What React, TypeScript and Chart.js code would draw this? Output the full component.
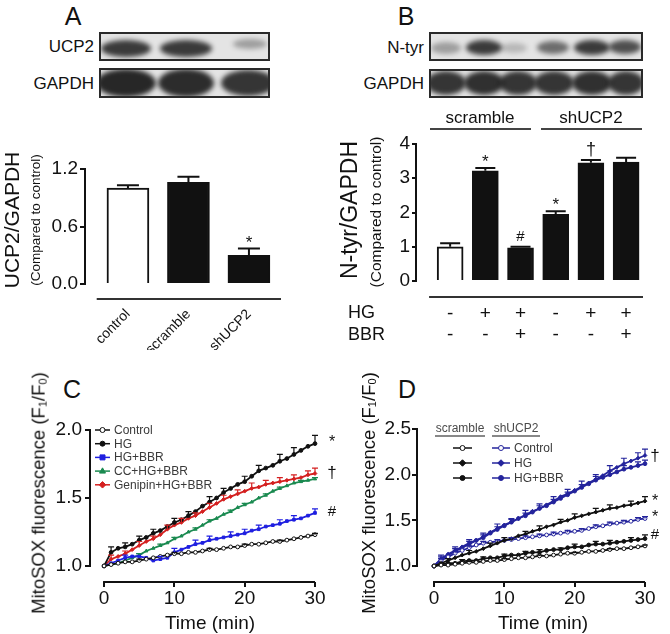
import React, { useEffect, useRef } from 'react';
import { Chart, registerables } from 'chart.js';
Chart.register(...registerables);

const FONT = '"Liberation Sans", Arial, Helvetica, sans-serif';
const INK = '#111111';

// ---------- Panel A data ----------
const aCategories = ['control', 'scramble', 'shUCP2'];
const aValues = [1.0, 1.06, 0.3];
const aErrors = [0.03, 0.06, 0.07];
const aMarks = ['', '', '*'];
const aTicks = [0, 0.6, 1.2];

// ---------- Panel B data ----------
const bHG = ['-', '+', '+', '-', '+', '+'];
const bBBR = ['-', '-', '+', '-', '-', '+'];
const bValues = [1.0, 3.22, 0.97, 1.95, 3.45, 3.47];
const bErrors = [0.1, 0.08, 0.03, 0.09, 0.08, 0.13];
const bMarks = ['', '*', '#', '*', '†', ''];
const bTicks = [0, 1, 2, 3, 4];

// ---------- Panels C / D shared ----------
const timeMin = [0, 1, 2, 3, 4, 5, 6, 7, 8, 9, 10, 11, 12, 13, 14, 15, 16, 17, 18, 19, 20, 21, 22, 23, 24, 25, 26, 27, 28, 29, 30];
const xTicks = [0, 10, 20, 30];

// ---------- Panel C data ----------
const cTicks = [1.0, 1.5, 2.0];
const cControl = [1.0, 1.01, 1.02, 1.03, 1.03, 1.04, 1.05, 1.06, 1.07, 1.08, 1.09, 1.09, 1.1, 1.1, 1.11, 1.12, 1.12, 1.13, 1.14, 1.14, 1.15, 1.16, 1.16, 1.17, 1.18, 1.18, 1.19, 1.2, 1.21, 1.22, 1.23];
const cControlErr = [0, 0, 0, 0, 0, 0.01, 0, 0, 0, 0, 0.01, 0, 0, 0, 0, 0.01, 0, 0, 0, 0, 0.01, 0, 0, 0, 0, 0.01, 0, 0, 0, 0, 0.01];
const cHG = [1.0, 1.1, 1.13, 1.14, 1.16, 1.19, 1.21, 1.24, 1.26, 1.29, 1.32, 1.34, 1.37, 1.4, 1.44, 1.47, 1.5, 1.54, 1.57, 1.6, 1.62, 1.66, 1.7, 1.72, 1.74, 1.77, 1.79, 1.82, 1.85, 1.88, 1.9];
const cHGErr = [0, 0.04, 0, 0.03, 0, 0.03, 0, 0.03, 0, 0, 0.03, 0, 0.03, 0, 0, 0.04, 0, 0.03, 0, 0, 0.04, 0, 0.04, 0, 0, 0.05, 0, 0.05, 0, 0, 0.06];
const cHGBBR = [1.0, 1.02, 1.04, 1.06, 1.07, 1.07, 1.06, 1.04, 1.05, 1.06, 1.1, 1.12, 1.14, 1.16, 1.17, 1.19, 1.2, 1.21, 1.22, 1.23, 1.24, 1.26, 1.27, 1.29, 1.3, 1.31, 1.33, 1.34, 1.35, 1.37, 1.39];
const cHGBBRErr = [0, 0, 0, 0.02, 0, 0.02, 0, 0, 0.02, 0, 0.03, 0, 0, 0.03, 0, 0.03, 0, 0, 0.03, 0, 0.03, 0, 0.03, 0, 0, 0.03, 0, 0.03, 0, 0, 0.03];
const cCC = [1.0, 1.01, 1.02, 1.04, 1.06, 1.08, 1.11, 1.13, 1.15, 1.17, 1.2, 1.22, 1.25, 1.27, 1.3, 1.33, 1.35, 1.38, 1.4, 1.43, 1.45, 1.47, 1.5, 1.52, 1.55, 1.57, 1.59, 1.61, 1.62, 1.63, 1.64];
const cCCErr = [0, 0, 0, 0, 0, 0.01, 0, 0, 0.01, 0, 0.01, 0, 0, 0.01, 0, 0.01, 0, 0, 0.01, 0, 0.01, 0, 0, 0.01, 0, 0.01, 0, 0, 0.01, 0, 0.01];
const cGenipin = [1.0, 1.05, 1.07, 1.09, 1.12, 1.15, 1.18, 1.2, 1.23, 1.27, 1.3, 1.32, 1.35, 1.37, 1.4, 1.43, 1.46, 1.49, 1.51, 1.53, 1.55, 1.57, 1.58, 1.6, 1.61, 1.62, 1.63, 1.64, 1.65, 1.67, 1.68];
const cGenipinErr = [0, 0.03, 0, 0.02, 0, 0.03, 0, 0.02, 0, 0.03, 0, 0.03, 0, 0.02, 0, 0.03, 0, 0.03, 0, 0.03, 0, 0.04, 0, 0.03, 0, 0.03, 0, 0.03, 0, 0.03, 0.04];
const cLabels = ['Control', 'HG', 'HG+BBR', 'CC+HG+BBR', 'Genipin+HG+BBR'];

// ---------- Panel D data ----------
const dTicks = [1.0, 1.5, 2.0, 2.5];
const dScrControl = [1.0, 1.01, 1.01, 1.02, 1.03, 1.04, 1.04, 1.05, 1.06, 1.06, 1.07, 1.08, 1.09, 1.09, 1.1, 1.11, 1.11, 1.12, 1.13, 1.14, 1.14, 1.15, 1.16, 1.16, 1.17, 1.18, 1.19, 1.19, 1.2, 1.21, 1.22];
const dScrControlErr = [0, 0, 0, 0, 0, 0.01, 0, 0, 0, 0, 0.01, 0, 0, 0, 0, 0.01, 0, 0, 0, 0, 0.01, 0, 0, 0, 0, 0.01, 0, 0, 0, 0, 0.01];
const dScrHG = [1.0, 1.03, 1.06, 1.09, 1.12, 1.14, 1.16, 1.19, 1.22, 1.25, 1.28, 1.3, 1.33, 1.35, 1.38, 1.4, 1.43, 1.45, 1.48, 1.5, 1.53, 1.55, 1.57, 1.59, 1.61, 1.63, 1.64, 1.66, 1.67, 1.69, 1.71];
const dScrHGErr = [0, 0, 0.02, 0, 0, 0.03, 0, 0, 0.03, 0, 0.03, 0, 0, 0.03, 0, 0.04, 0, 0, 0.03, 0, 0.04, 0, 0, 0.04, 0, 0.04, 0, 0, 0.04, 0, 0.05];
const dScrHGBBR = [1.0, 1.02, 1.03, 1.03, 1.05, 1.06, 1.06, 1.08, 1.09, 1.09, 1.11, 1.12, 1.12, 1.14, 1.15, 1.15, 1.17, 1.18, 1.18, 1.2, 1.21, 1.21, 1.23, 1.24, 1.24, 1.25, 1.26, 1.27, 1.28, 1.29, 1.3];
const dScrHGBBRErr = [0, 0, 0, 0, 0.02, 0, 0, 0.02, 0, 0, 0.02, 0, 0, 0.02, 0, 0.03, 0, 0, 0.02, 0, 0.03, 0, 0, 0.03, 0, 0.03, 0, 0, 0.03, 0, 0.04];
const dShControl = [1.0, 1.06, 1.1, 1.14, 1.17, 1.2, 1.23, 1.25, 1.26, 1.27, 1.28, 1.29, 1.3, 1.31, 1.32, 1.33, 1.34, 1.35, 1.36, 1.37, 1.38, 1.39, 1.41, 1.43, 1.44, 1.46, 1.47, 1.48, 1.49, 1.51, 1.52];
const dShControlErr = [0, 0.02, 0, 0.02, 0, 0.02, 0, 0.02, 0, 0.02, 0, 0.02, 0, 0.02, 0, 0.02, 0, 0.02, 0, 0.02, 0, 0.02, 0, 0.02, 0, 0.02, 0, 0.02, 0, 0.02, 0.02];
const dShHG = [1.0, 1.08, 1.13, 1.17, 1.21, 1.25, 1.28, 1.32, 1.37, 1.41, 1.45, 1.48, 1.52, 1.56, 1.6, 1.63, 1.67, 1.71, 1.76, 1.79, 1.83, 1.87, 1.91, 1.95, 1.99, 2.04, 2.08, 2.12, 2.15, 2.18, 2.21];
const dShHGErr = [0, 0.04, 0, 0.04, 0, 0.04, 0, 0.04, 0, 0.05, 0, 0.04, 0, 0.05, 0, 0.05, 0, 0.05, 0, 0.05, 0, 0.06, 0, 0.05, 0, 0.06, 0, 0.06, 0, 0.06, 0.07];
const dShHGBBR = [1.0, 1.07, 1.12, 1.16, 1.2, 1.24, 1.28, 1.31, 1.36, 1.4, 1.44, 1.48, 1.52, 1.55, 1.59, 1.63, 1.66, 1.7, 1.74, 1.78, 1.82, 1.86, 1.9, 1.94, 1.97, 2.0, 2.03, 2.06, 2.08, 2.1, 2.12];
const dShHGBBRErr = [0, 0.03, 0, 0.03, 0, 0.03, 0, 0.03, 0, 0.03, 0, 0.03, 0, 0.03, 0, 0.03, 0, 0.03, 0, 0.03, 0, 0.03, 0, 0.04, 0, 0.04, 0, 0.04, 0, 0.04, 0.04];
const dLabels = ['Control', 'HG', 'HG+BBR'];

// ---------- helpers ----------
function drawMarker(ctx: CanvasRenderingContext2D, style: string, x: number, y: number, r: number, fill: string, stroke: string) {
  ctx.beginPath();
  if (style === 'rect') ctx.rect(x - r, y - r, 2 * r, 2 * r);
  else if (style === 'triangle') {
    ctx.moveTo(x, y - r * 1.3);
    ctx.lineTo(x + r * 1.2, y + r * 0.8);
    ctx.lineTo(x - r * 1.2, y + r * 0.8);
    ctx.closePath();
  } else if (style === 'rectRot') {
    ctx.moveTo(x, y - r * 1.3);
    ctx.lineTo(x + r * 1.3, y);
    ctx.lineTo(x, y + r * 1.3);
    ctx.lineTo(x - r * 1.3, y);
    ctx.closePath();
  } else ctx.arc(x, y, r, 0, Math.PI * 2);
  ctx.fillStyle = fill;
  ctx.fill();
  ctx.strokeStyle = stroke;
  ctx.lineWidth = 1;
  ctx.stroke();
}

const MARK_STYLE: Record<string, { size: number; gap: number }> = {
  '*': { size: 17, gap: 1 },
  '#': { size: 15, gap: 6 },
  '†': { size: 18, gap: 5 },
};

const prismPlugin = {
  id: 'prism',
  afterDatasetsDraw(chart: any) {
    const o = chart.options.plugins.prism || {};
    const ctx: CanvasRenderingContext2D = chart.ctx;
    const xs = chart.scales.x;
    const ys = chart.scales.y;
    const ca = chart.chartArea;
    ctx.save();
    chart.data.datasets.forEach((ds: any, di: number) => {
      const meta = chart.getDatasetMeta(di);
      if (ds.errors) {
        meta.data.forEach((el: any, i: number) => {
          const e = ds.errors[i];
          if (!e) return;
          const v = ds.data[i].y;
          const y0 = ys.getPixelForValue(v);
          const y1 = ys.getPixelForValue(v + e);
          const x = el.x;
          const w = (ds.capWidth || 6) / 2;
          ctx.strokeStyle = ds.errorColor || ds.borderColor;
          ctx.lineWidth = ds.errorWidth || 1.2;
          ctx.beginPath();
          ctx.moveTo(x, y0);
          ctx.lineTo(x, y1);
          ctx.moveTo(x - w, y1);
          ctx.lineTo(x + w, y1);
          ctx.stroke();
        });
      }
      if (ds.marks) {
        ctx.fillStyle = INK;
        ctx.textAlign = 'center';
        ctx.textBaseline = 'alphabetic';
        meta.data.forEach((el: any, i: number) => {
          const m = ds.marks[i];
          if (!m) return;
          const st = MARK_STYLE[m] || { size: 15, gap: 4 };
          ctx.font = `${st.size}px ${FONT}`;
          const v = ds.data[i].y + (ds.errors ? ds.errors[i] : 0);
          ctx.fillText(m, el.x, ys.getPixelForValue(v) - st.gap);
        });
      }
    });
    ctx.strokeStyle = INK;
    ctx.lineWidth = 2;
    if (o.yLine) {
      ctx.beginPath();
      ctx.moveTo(ca.left, ys.getPixelForValue(o.yLine[0]) + 1);
      ctx.lineTo(ca.left, ys.getPixelForValue(o.yLine[1]) - 1);
      ctx.stroke();
    }
    if (o.xLine) {
      const y = ca.bottom + (o.xLine[2] || 0);
      ctx.strokeStyle = o.xLineColor || INK;
      ctx.beginPath();
      ctx.moveTo(xs.getPixelForValue(o.xLine[0]) - 1, y);
      ctx.lineTo(xs.getPixelForValue(o.xLine[1]), y);
      ctx.stroke();
    }
    if (o.legend) {
      o.legend.forEach((it: any) => {
        const ds = chart.data.datasets[it.ds];
        ctx.strokeStyle = ds.borderColor;
        ctx.lineWidth = 1.5;
        ctx.beginPath();
        ctx.moveTo(it.x, it.y);
        ctx.lineTo(it.x + it.len, it.y);
        ctx.stroke();
        drawMarker(ctx, ds.pointStyle, it.x + it.len / 2, it.y, 2.5, ds.pointBackgroundColor, ds.borderColor);
        if (it.text) {
          ctx.fillStyle = '#3a3a3a';
          ctx.font = `12px ${FONT}`;
          ctx.textAlign = 'left';
          ctx.textBaseline = 'middle';
          ctx.fillText(it.text, it.x + it.len + 4, it.y + 0.5);
        }
      });
    }
    ctx.restore();
  },
};

const tickGrid = { display: true, drawOnChartArea: false, drawTicks: true, tickLength: 5, lineWidth: 2, color: INK };

function barConfig(p: any) {
  return {
    type: 'bar',
    data: {
      datasets: [
        {
          data: p.values.map((v: number, i: number) => ({ x: i, y: v })),
          backgroundColor: p.values.map((_: number, i: number) => (i === 0 ? '#ffffff' : INK)),
          borderColor: INK,
          borderWidth: 2,
          barThickness: p.barThickness,
          errors: p.errors,
          marks: p.marks,
          capWidth: p.capWidth,
          errorColor: INK,
          errorWidth: 2,
        },
      ],
    },
    options: {
      animation: false,
      responsive: false,
      devicePixelRatio: 1,
      layout: { padding: { left: 0, top: p.top, right: p.right, bottom: 0 } },
      plugins: {
        legend: { display: false },
        tooltip: { enabled: false },
        prism: { yLine: [p.yTicks[0], p.yTicks[p.yTicks.length - 1]], xLine: p.xLine, xLineColor: '#333' },
      },
      scales: {
        x: {
          type: 'linear',
          min: p.xMin,
          max: p.xMax,
          offset: false,
          grid: { display: false },
          border: { display: false },
          afterBuildTicks: (s: any) => {
            s.ticks = p.values.map((_: number, i: number) => ({ value: i }));
          },
          ticks: {
            autoSkip: false,
            minRotation: p.rotation,
            maxRotation: p.rotation,
            padding: p.xPad,
            color: INK,
            font: { family: FONT, size: p.xFont, lineHeight: p.xLineHeight },
            callback: p.xLabel,
          },
          afterFit: (s: any) => {
            s.height = p.xHeight;
          },
        },
        y: {
          min: p.yTicks[0],
          max: p.yTicks[p.yTicks.length - 1],
          afterBuildTicks: (s: any) => {
            s.ticks = p.yTicks.map((v: number) => ({ value: v }));
          },
          grid: { ...tickGrid, tickLength: p.tickLen },
          border: { display: false },
          ticks: { padding: p.yPad, color: INK, font: { family: FONT, size: 19, lineHeight: 1 }, callback: p.yLabel },
          afterFit: (s: any) => {
            s.width = p.yWidth;
          },
        },
      },
    },
    plugins: [prismPlugin],
  };
}

function lineDs(label: string, vals: number[], errs: number[], color: string, style: string, fill: string) {
  return {
    type: 'line',
    label,
    data: timeMin.map((t, i) => ({ x: t, y: vals[i] })),
    borderColor: color,
    backgroundColor: color,
    borderWidth: 1.8,
    pointRadius: 1.9,
    pointStyle: style,
    pointBackgroundColor: fill,
    pointBorderColor: color,
    pointBorderWidth: 1,
    tension: 0,
    clip: false,
    errors: errs,
    capWidth: 6,
    errorWidth: 1.2,
  };
}

function lineConfig(p: any) {
  return {
    type: 'line',
    data: { datasets: p.datasets },
    options: {
      animation: false,
      responsive: false,
      devicePixelRatio: 1,
      layout: { padding: { left: 0, top: p.top, right: p.right, bottom: 0 } },
      plugins: {
        legend: { display: false },
        tooltip: { enabled: false },
        prism: { yLine: [p.yTicks[0], p.yTicks[p.yTicks.length - 1]], xLine: [0, 30, 0], legend: p.legend },
      },
      scales: {
        x: {
          type: 'linear',
          min: p.xMin,
          max: 30,
          afterBuildTicks: (s: any) => {
            s.ticks = xTicks.map((v) => ({ value: v }));
          },
          grid: tickGrid,
          border: { display: false },
          ticks: { padding: 2, color: INK, font: { family: FONT, size: 19, lineHeight: 1 } },
          afterFit: (s: any) => {
            s.height = 52;
          },
        },
        y: {
          min: p.yMin,
          max: p.yTicks[p.yTicks.length - 1],
          afterBuildTicks: (s: any) => {
            s.ticks = p.yTicks.map((v: number) => ({ value: v }));
          },
          grid: tickGrid,
          border: { display: false },
          ticks: { padding: p.yPad, color: INK, font: { family: FONT, size: 19, lineHeight: 1 }, callback: (v: number) => v.toFixed(1) },
          afterFit: (s: any) => {
            s.width = p.yWidth;
          },
        },
      },
    },
    plugins: [prismPlugin],
  };
}

const BLUE_C = '#1f1fe0';
const GREEN_C = '#1a8a50';
const RED_C = '#d42020';
const NAVY_D = '#24249c';

const configA = () =>
  barConfig({
    values: aValues,
    errors: aErrors,
    marks: aMarks,
    yTicks: aTicks,
    barThickness: 42,
    capWidth: 22,
    top: 69,
    right: 49,
    xMin: -0.71,
    xMax: 2.53,
    xLine: [-0.5, 2.53, 15],
    rotation: 45,
    xPad: 14,
    xFont: 14,
    xLineHeight: 1.2,
    xHeight: 66,
    xLabel: (v: number) => aCategories[v],
    tickLen: 5,
    yPad: 2,
    yWidth: 85,
    yLabel: (v: number) => v.toFixed(1),
  });

const configB = () =>
  barConfig({
    values: bValues,
    errors: bErrors,
    marks: bMarks,
    yTicks: bTicks,
    barThickness: 26,
    capWidth: 20,
    top: 44,
    right: 27,
    xMin: -0.97,
    xMax: 5.48,
    xLine: [-0.57, 5.48, 16],
    rotation: 0,
    xPad: 14,
    xFont: 19,
    xLineHeight: 1.105,
    xHeight: 69,
    xLabel: (v: number) => [bHG[v], bBBR[v]],
    tickLen: 4,
    yPad: 2,
    yWidth: 86,
    yLabel: (v: number) => String(v),
  });

const configC = () =>
  lineConfig({
    datasets: [
      lineDs(cLabels[0], cControl, cControlErr, INK, 'circle', '#ffffff'),
      lineDs(cLabels[1], cHG, cHGErr, INK, 'circle', INK),
      lineDs(cLabels[2], cHGBBR, cHGBBRErr, BLUE_C, 'rect', BLUE_C),
      lineDs(cLabels[3], cCC, cCCErr, GREEN_C, 'triangle', GREEN_C),
      lineDs(cLabels[4], cGenipin, cGenipinErr, RED_C, 'rectRot', RED_C),
    ],
    yTicks: cTicks,
    yMin: 0.882,
    xMin: -2,
    top: 30,
    right: 25,
    yPad: 3,
    yWidth: 90,
    legend: cLabels.map((t, i) => ({ ds: i, x: 95, y: 30 + i * 13.7, len: 15, text: t })),
  });

const configD = () =>
  lineConfig({
    datasets: [
      lineDs('scramble ' + dLabels[0], dScrControl, dScrControlErr, INK, 'circle', '#ffffff'),
      lineDs('scramble ' + dLabels[1], dScrHG, dScrHGErr, INK, 'rectRot', INK),
      lineDs('scramble ' + dLabels[2], dScrHGBBR, dScrHGBBRErr, INK, 'circle', INK),
      lineDs('shUCP2 ' + dLabels[0], dShControl, dShControlErr, NAVY_D, 'circle', '#ffffff'),
      lineDs('shUCP2 ' + dLabels[1], dShHG, dShHGErr, NAVY_D, 'rectRot', NAVY_D),
      lineDs('shUCP2 ' + dLabels[2], dShHGBBR, dShHGBBRErr, NAVY_D, 'circle', NAVY_D),
    ],
    yTicks: dTicks,
    yMin: 0.825,
    xMin: -2.42,
    top: 29,
    right: 25,
    yPad: 1,
    yWidth: 77,
    legend: [
      { ds: 0, x: 113, y: 48, len: 19 },
      { ds: 1, x: 113, y: 63, len: 19 },
      { ds: 2, x: 113, y: 78, len: 19 },
      { ds: 3, x: 152, y: 48, len: 18, text: dLabels[0] },
      { ds: 4, x: 152, y: 63, len: 18, text: dLabels[1] },
      { ds: 5, x: 152, y: 78, len: 18, text: dLabels[2] },
    ],
  });

function ChartBox({ left, top, width, height, make }: any) {
  const ref = useRef<HTMLCanvasElement>(null);
  useEffect(() => {
    const chart = new Chart(ref.current as HTMLCanvasElement, make());
    return () => chart.destroy();
  }, []);
  return <canvas ref={ref} width={width} height={height} style={{ position: 'absolute', left, top, width, height }} />;
}

function Txt({ x, y, size, children, rot, anchor = 'middle', color = INK, style }: any) {
  const tx = anchor === 'end' ? '-100%' : anchor === 'start' ? '0' : '-50%';
  return (
    <div
      style={{
        position: 'absolute',
        left: x,
        top: y,
        fontSize: size,
        lineHeight: 1,
        whiteSpace: 'nowrap',
        color,
        transform: `translate(${tx}, -50%)${rot ? ` rotate(${rot}deg)` : ''}`,
        ...style,
      }}
    >
      {children}
    </div>
  );
}

function Blot({ left, top, width, height, bands }: any) {
  return (
    <div
      style={{
        position: 'absolute',
        left,
        top,
        width,
        height,
        border: '2px solid #2a2a2a',
        boxSizing: 'border-box',
        background: '#e4e4e4',
        overflow: 'hidden',
      }}
    >
      {bands.map((b: number[], i: number) => (
        <div
          key={i}
          style={{
            position: 'absolute',
            left: b[0] - left - 2 - b[2] / 2,
            top: b[1] - top - 2 - b[3] / 2,
            width: b[2],
            height: b[3],
            borderRadius: '50%',
            background: `rgba(28,28,28,${b[4]})`,
            filter: 'blur(2.5px)',
          }}
        />
      ))}
    </div>
  );
}

const sub: React.CSSProperties = { fontSize: '0.6em', verticalAlign: '-0.15em' };

export default function App() {
  return (
    <div
      style={{
        position: 'absolute',
        left: 0,
        top: 0,
        width: 670,
        height: 634,
        background: '#ffffff',
        fontFamily: FONT,
        color: INK,
        overflow: 'hidden',
      }}
    >
      {/* Panel letters */}
      <Txt x={73} y={16} size={25}>A</Txt>
      <Txt x={406} y={16} size={25}>B</Txt>
      <Txt x={72} y={389} size={25}>C</Txt>
      <Txt x={407} y={389} size={25}>D</Txt>

      {/* Blots A */}
      <Txt x={94} y={46} size={17} anchor="end">UCP2</Txt>
      <Txt x={94} y={83} size={17} anchor="end">GAPDH</Txt>
      <Blot
        left={99}
        top={32}
        width={171}
        height={29}
        bands={[
          [126, 48, 50, 17, 0.85],
          [186, 48, 52, 17, 0.85],
          [250, 44, 34, 10, 0.35],
        ]}
      />
      <Blot
        left={99}
        top={68}
        width={171}
        height={30}
        bands={[
          [126, 83, 60, 28, 0.95],
          [186, 83, 56, 28, 0.92],
          [248, 83, 54, 26, 0.88],
        ]}
      />

      {/* Blots B */}
      <Txt x={424} y={47} size={17} anchor="end">N-tyr</Txt>
      <Txt x={424} y={83} size={17} anchor="end">GAPDH</Txt>
      <Blot
        left={429}
        top={32}
        width={214}
        height={29}
        bands={[
          [446, 48, 30, 12, 0.35],
          [484, 47, 36, 15, 0.85],
          [514, 48, 26, 10, 0.22],
          [553, 47, 32, 13, 0.6],
          [592, 47, 36, 15, 0.85],
          [625, 47, 32, 14, 0.75],
        ]}
      />
      <Blot
        left={429}
        top={69}
        width={214}
        height={29}
        bands={[
          [446, 83, 40, 24, 0.88],
          [484, 83, 40, 24, 0.9],
          [518, 83, 38, 24, 0.88],
          [554, 83, 40, 24, 0.88],
          [592, 83, 40, 24, 0.9],
          [626, 83, 36, 24, 0.88],
        ]}
      />

      {/* Bar charts */}
      <ChartBox left={0} top={100} width={330} height={250} make={configA} />
      <ChartBox left={330} top={100} width={340} height={250} make={configB} />

      {/* A titles */}
      <Txt x={11} y={220} size={21} rot={-90}>UCP2/GAPDH</Txt>
      <Txt x={36} y={220} size={13.5} rot={-90}>(Compared to control)</Txt>

      {/* B titles and groups */}
      <Txt x={349} y={210} size={23} rot={-90}>N-tyr/GAPDH</Txt>
      <Txt x={376} y={212} size={15.5} rot={-90}>(Compared to control)</Txt>
      <Txt x={480} y={117} size={17}>scramble</Txt>
      <Txt x={591} y={117} size={17}>shUCP2</Txt>
      <div style={{ position: 'absolute', left: 430, top: 128, width: 101, height: 2, background: '#444' }} />
      <div style={{ position: 'absolute', left: 541, top: 128, width: 101, height: 2, background: '#444' }} />
      <Txt x={348} y={312} size={18} anchor="start">HG</Txt>
      <Txt x={348} y={334} size={18} anchor="start">BBR</Txt>

      {/* Line charts */}
      <ChartBox left={0} top={400} width={340} height={234} make={configC} />
      <ChartBox left={340} top={400} width={330} height={234} make={configD} />

      {/* C titles */}
      <Txt x={39} y={493} size={18.5} rot={-90}>
        MitoSOX fluorescence (F<span style={sub}>1</span>/F<span style={sub}>0</span>)
      </Txt>
      <Txt x={210} y={622} size={19}>Time (min)</Txt>
      <Txt x={332} y={442} size={16}>*</Txt>
      <Txt x={332} y={472} size={17}>†</Txt>
      <Txt x={332} y={510} size={15}>#</Txt>

      {/* D titles */}
      <Txt x={369} y={493} size={18.5} rot={-90}>
        MitoSOX fluorescence (F<span style={sub}>1</span>/F<span style={sub}>0</span>)
      </Txt>
      <Txt x={543} y={622} size={19}>Time (min)</Txt>
      <Txt x={460} y={428} size={12} color="#4a4a4a">scramble</Txt>
      <Txt x={516} y={428} size={12} color="#4a4a4a">shUCP2</Txt>
      <div style={{ position: 'absolute', left: 435, top: 435, width: 50, height: 2, background: '#888' }} />
      <div style={{ position: 'absolute', left: 492, top: 435, width: 48, height: 2, background: '#888' }} />
      <Txt x={655} y={455} size={17}>†</Txt>
      <Txt x={655} y={501} size={16}>*</Txt>
      <Txt x={655} y={517} size={16}>*</Txt>
      <Txt x={655} y={533} size={15}>#</Txt>
    </div>
  );
}
